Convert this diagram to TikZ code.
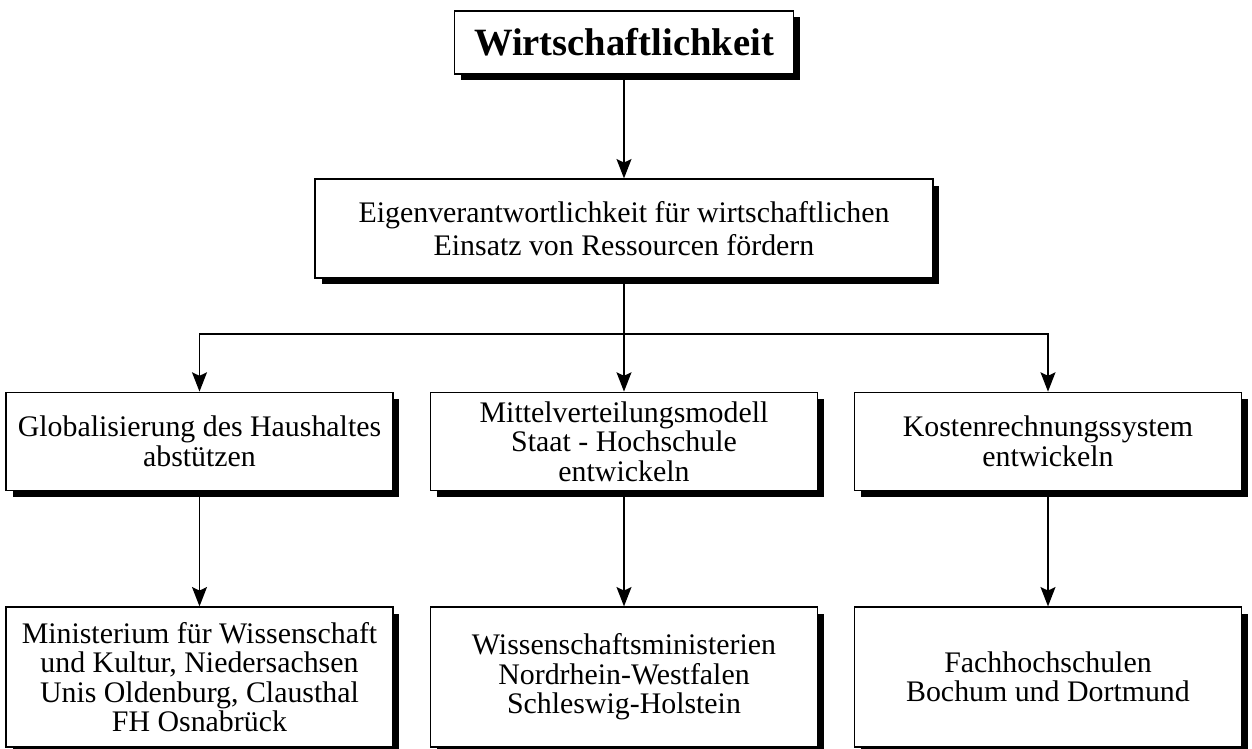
\documentclass[tikz,border=0pt]{standalone}
\usepackage{fontspec}
\setmainfont{Liberation Serif}
\usetikzlibrary{arrows.meta, shadows, positioning}

\begin{document}
\begin{tikzpicture}[
                x=0.02cm, y=-0.02cm,
                box/.style={rectangle, draw, fill=white, line width=0.7pt, align=center,
                    inner sep=0pt, font=\fontsize{17}{16.8}\selectfont,
                    drop shadow={shadow xshift=0.13cm, shadow yshift=-0.13cm, fill=black, opacity=1}},
                goalbox/.style={box, minimum width=6.78cm, minimum height=1.26cm,
                    font=\fontsize{22}{24}\selectfont\bfseries},
                taskbox/.style={box, minimum width=7.74cm, minimum height=1.97cm},
                actorbox/.style={box, minimum width=7.74cm, minimum height=2.8cm},
                arrow/.style={-{Stealth[length=11pt, width=8.5pt, inset=2pt]}, line width=0.8pt}
            ]
                \useasboundingbox (0,0) rectangle (1252,749);

                % Nodes
                \node[goalbox] (goal) at (624,42.5) {Wirtschaftlichkeit};
                \node[box, minimum width=12.36cm, minimum height=1.98cm,
                    font=\fontsize{17}{18.5}\selectfont] (aim) at (624,228.5)
                    {Eigenverantwortlichkeit für wirtschaftlichen\\Einsatz von Ressourcen fördern};
                \node[taskbox] (haushalt) at (199.5,441.5) {Globalisierung des Haushaltes\\abstützen};
                \node[taskbox] (mittel) at (624,441.5) {Mittelverteilungsmodell\\Staat - Hochschule\\entwickeln};
                \node[taskbox] (kosten) at (1048,441.5) {Kostenrechnungssystem\\entwickeln};
                \node[actorbox] (nds) at (199.5,677) {Ministerium für Wissenschaft\\und Kultur, Niedersachsen\\Unis Oldenburg, Clausthal\\FH Osnabrück};
                \node[actorbox] (nrw) at (624,677) {Wissenschaftsministerien\\Nordrhein-Westfalen\\Schleswig-Holstein};
                \node[actorbox] (fh) at (1048,677) {Fachhochschulen\\Bochum und Dortmund};
                \coordinate (bus) at (624,334);

                % Edges
                \draw[arrow] (goal) -- (aim);
                \draw[arrow] (aim) -- (mittel);
                \draw[arrow] (bus) -| (haushalt);
                \draw[arrow] (bus) -| (kosten);
                \draw[arrow] (haushalt) -- (nds);
                \draw[arrow] (mittel) -- (nrw);
                \draw[arrow] (kosten) -- (fh);
            \end{tikzpicture}
\end{document}
